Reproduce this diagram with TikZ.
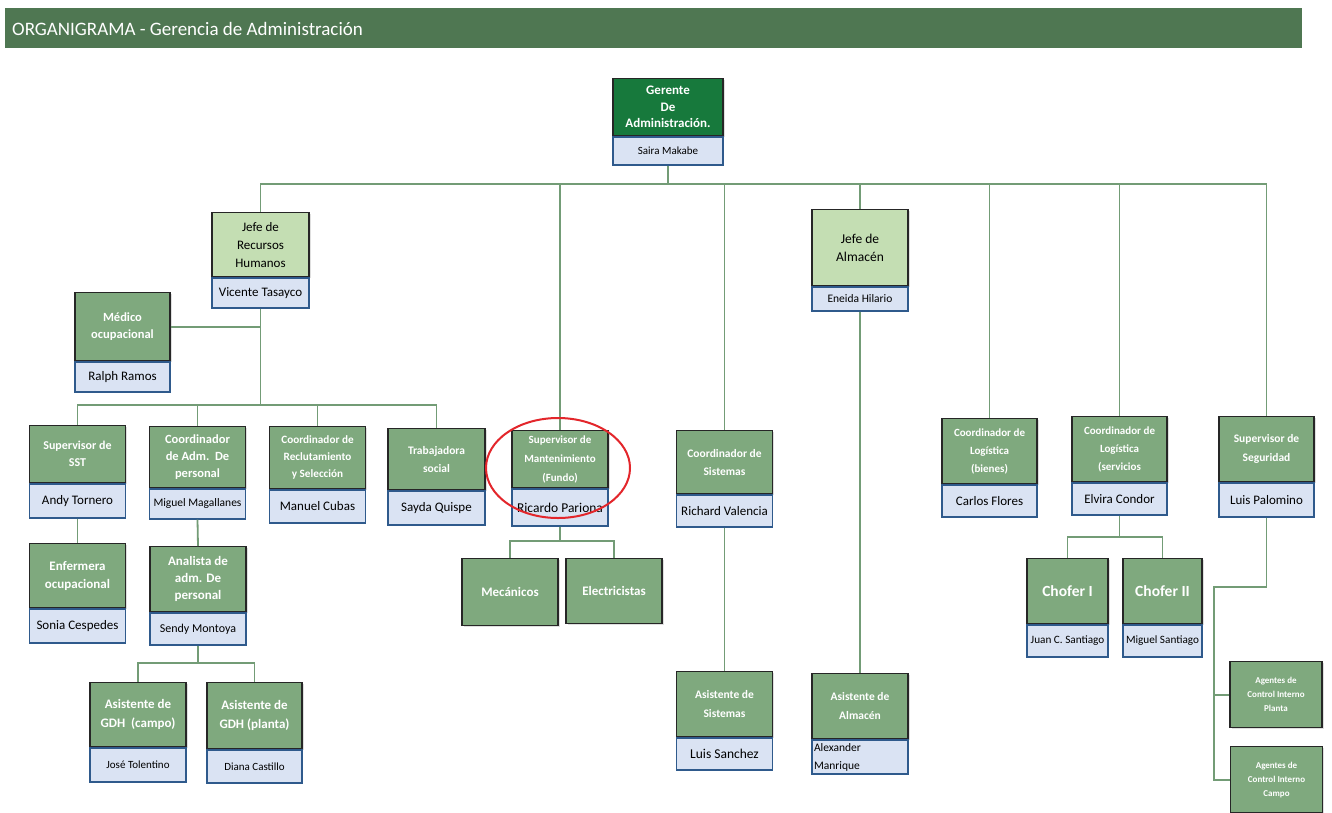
\documentclass[tikz,border=0pt]{standalone}
\usepackage{fontspec}
\setmainfont{Carlito}
\usetikzlibrary{positioning,shadows}
\definecolor{barverde}{HTML}{4F7752}
\definecolor{gerverde}{HTML}{17793C}
\definecolor{jefeverde}{HTML}{C4DEB3}
\definecolor{cargoverde}{HTML}{7FA97E}
\definecolor{nombreazul}{HTML}{DAE3F3}
\definecolor{bordeazul}{HTML}{2F5A8C}
\definecolor{lineaverde}{HTML}{739C76}
\definecolor{elipse}{HTML}{E3262B}

\begin{document}
\begin{tikzpicture}[x=1pt,y=-1pt,
% estilos
cargo/.style={draw=black!85, fill=cargoverde, text=white, line width=1.3pt, minimum width=96pt, anchor=north, align=center, inner sep=2pt, font=\bfseries\fontsize{12}{17}\selectfont, drop shadow={opacity=0.25,shadow xshift=1.5pt,shadow yshift=-1.5pt}},
jefe/.style={cargo, fill=jefeverde, text=black},
nombre/.style={draw=bordeazul, fill=nombreazul, text=black, line width=1.3pt, minimum width=96pt, inner sep=1pt, align=center, font=\fontsize{13}{14}\selectfont, below=0pt of #1},
link/.style={draw=lineaverde, line width=1.8pt},
]
\fill[white, use as bounding box] (0,0) rectangle (1332,812);

% titulo
\fill[barverde] (5,8) rectangle (1302,48);
\node[anchor=west, text=white, inner sep=0pt, font=\fontsize{19}{22}\selectfont] (titulo) at (12,29) {ORGANIGRAMA - Gerencia de Administración};

% gerencia
\node[cargo, fill=gerverde, minimum width=110pt, minimum height=57pt, font=\bfseries\fontsize{13}{16.5}\selectfont] (ger) at (668,78) {Gerente\\De\\Administración.};
\node[nombre=ger, minimum width=110pt, minimum height=28pt, font=\fontsize{11}{12}\selectfont] (gern) {Saira Makabe};

% recursos humanos
\node[jefe, minimum width=97pt, minimum height=64pt, font=\fontsize{13}{18}\selectfont] (rrhh) at (260.5,212) {Jefe de\\Recursos\\Humanos};
\node[nombre=rrhh, minimum width=97pt, minimum height=30pt] (rrhhn) {Vicente Tasayco};
\node[cargo, minimum width=95pt, minimum height=68pt, font=\bfseries\fontsize{12.5}{17}\selectfont] (med) at (122.5,292) {Médico\\ocupacional};
\node[nombre=med, minimum width=95pt, minimum height=30pt] (medn) {Ralph Ramos};

\node[cargo, minimum height=57pt] (sst) at (77.5,425) {Supervisor de\\SST};
\node[nombre=sst, minimum height=34pt] (sstn) {Andy Tornero};
\node[cargo, minimum height=61pt, font=\bfseries\fontsize{12.5}{17}\selectfont] (cadm) at (197.5,426) {Coordinador\\de Adm.\ \ De\\personal};
\node[nombre=cadm, minimum height=30pt, font=\fontsize{11.5}{13}\selectfont] (cadmn) {Miguel Magallanes};
\node[cargo, minimum height=62pt, font=\bfseries\fontsize{11.2}{17}\selectfont] (crec) at (317.5,426) {Coordinador de\\Reclutamiento\\y Selección};
\node[nombre=crec, minimum height=33pt] (crecn) {Manuel Cubas};
\node[cargo, minimum width=97pt, minimum height=61pt, font=\bfseries\fontsize{11.5}{18}\selectfont] (tsoc) at (436.5,428) {Trabajadora\\social};
\node[nombre=tsoc, minimum width=97pt, minimum height=34pt] (tsocn) {Sayda Quispe};

\node[cargo, minimum height=64pt, font=\bfseries\fontsize{13}{18}\selectfont] (enf) at (77.5,543) {Enfermera\\ocupacional};
\node[nombre=enf, minimum height=34pt] (enfn) {Sonia Cespedes};
\node[cargo, minimum height=65pt, font=\bfseries\fontsize{13}{17}\selectfont] (anal) at (198,546) {Analista de\\adm. De\\personal};
\node[nombre=anal, minimum height=32pt, font=\fontsize{12}{13}\selectfont] (analn) {Sendy Montoya};
\node[cargo, minimum height=64pt, font=\bfseries\fontsize{13}{19}\selectfont] (gdhc) at (138,682) {Asistente de\\GDH\ \ (campo)};
\node[nombre=gdhc, minimum height=34pt, font=\fontsize{11}{12}\selectfont] (gdhcn) {José Tolentino};
\node[cargo, minimum width=95pt, minimum height=66pt, font=\bfseries\fontsize{13}{19}\selectfont] (gdhp) at (254.5,682) {Asistente de\\GDH (planta)};
\node[nombre=gdhp, minimum width=95pt, minimum height=33pt, font=\fontsize{11}{12}\selectfont] (gdhpn) {Diana Castillo};

% mantenimiento
\node[cargo, minimum height=57pt, font=\bfseries\fontsize{11}{19}\selectfont] (smant) at (560,430) {Supervisor de\\Mantenimiento\\(Fundo)};
\node[nombre=smant, minimum height=37pt, font=\fontsize{13.5}{14}\selectfont] (smantn) {Ricardo Pariona};
\node[cargo, minimum height=67pt, font=\bfseries\fontsize{13}{17}\selectfont] (mec) at (510,558) {Mecánicos};
\node[cargo, minimum height=65pt, font=\bfseries\fontsize{13}{17}\selectfont] (elec) at (614,558) {Electricistas};

% sistemas
\node[cargo, minimum height=63pt, font=\bfseries\fontsize{11.5}{18}\selectfont] (csis) at (724.5,430) {Coordinador de\\Sistemas};
\node[nombre=csis, minimum height=32pt] (csisn) {Richard Valencia};
\node[cargo, minimum height=65pt, font=\bfseries\fontsize{11.5}{19}\selectfont] (asis) at (724.5,671) {Asistente de\\Sistemas};
\node[nombre=asis, minimum height=32pt, font=\fontsize{13.5}{14}\selectfont] (asisn) {Luis Sanchez};

% almacen
\node[jefe, minimum height=76pt, font=\fontsize{13.5}{18}\selectfont] (jalm) at (860,209) {Jefe de\\Almacén};
\node[nombre=jalm, minimum height=24pt, font=\fontsize{11.5}{12}\selectfont] (jalmn) {Eneida Hilario};
\node[cargo, minimum height=65pt, font=\bfseries\fontsize{11.5}{19}\selectfont] (aalm) at (860,673) {Asistente de\\Almacén};
\node[nombre=aalm, minimum height=34pt, text width=92pt, align=left, font=\fontsize{11.5}{18}\selectfont] (aalmn) {Alexander\\Manrique};

% logistica
\node[cargo, minimum width=95pt, minimum height=65pt, font=\bfseries\fontsize{11}{18}\selectfont] (clb) at (989.5,418) {Coordinador de\\Logística\\(bienes)};
\node[nombre=clb, minimum width=95pt, minimum height=32pt] (clbn) {Carlos Flores};
\node[cargo, minimum width=95pt, minimum height=65pt, font=\bfseries\fontsize{11}{18}\selectfont] (cls) at (1119.5,416) {Coordinador de\\Logística\\(servicios};
\node[nombre=cls, minimum width=95pt, minimum height=32pt] (clsn) {Elvira Condor};
\node[cargo, minimum width=81pt, minimum height=65pt, font=\bfseries\fontsize{15.5}{17}\selectfont] (ch1) at (1067.5,558) {Chofer I};
\node[nombre=ch1, minimum width=81pt, minimum height=32pt, font=\fontsize{11.2}{12}\selectfont] (ch1n) {Juan C. Santiago};
\node[cargo, minimum width=79pt, minimum height=65pt, font=\bfseries\fontsize{15.5}{17}\selectfont] (ch2) at (1162.5,558) {Chofer II};
\node[nombre=ch2, minimum width=79pt, minimum height=32pt, font=\fontsize{11.2}{12}\selectfont] (ch2n) {Miguel Santiago};

% seguridad
\node[cargo, minimum width=95pt, minimum height=65pt, font=\bfseries\fontsize{11.5}{19}\selectfont] (sseg) at (1266.5,416) {Supervisor de\\Seguridad};
\node[nombre=sseg, minimum width=95pt, minimum height=34pt] (ssegn) {Luis Palomino};
\node[cargo, minimum width=92pt, minimum height=66pt, font=\bfseries\fontsize{9}{14}\selectfont] (agp) at (1276,661) {Agentes de\\Control Interno\\Planta};
\node[cargo, minimum width=92pt, minimum height=66pt, font=\bfseries\fontsize{9}{14}\selectfont] (agc) at (1276.5,746) {Agentes de\\Control Interno\\Campo};

% lineas
\coordinate (busger) at (668,184);
\draw[link] (gern.south) -- (busger);
\foreach \n in {rrhh,smant,csis,jalm,clb,cls,sseg}
  \draw[link] (busger) -| (\n.north);

\coordinate (busrh) at (260.5,405);
\draw[link] (rrhhn.south) -- (busrh);
\draw[link] (med.east) -- (med.east -| rrhhn.south);
\foreach \n in {sst,cadm,crec,tsoc}
  \draw[link] (busrh) -| (\n.north);
\draw[link] (sstn.south) -- (enf.north);
\draw[link] (cadmn.south) -- (anal.north);
\coordinate (busan) at (198,663);
\draw[link] (analn.south) -- (busan);
\foreach \n in {gdhc,gdhp}
  \draw[link] (busan) -| (\n.north);

\coordinate (busma) at (560,541);
\draw[link] (smantn.south) -- (busma);
\foreach \n in {mec,elec}
  \draw[link] (busma) -| (\n.north);

\draw[link] (csisn.south) -- (asis.north);
\draw[link] (jalmn.south) -- (aalm.north);

\coordinate (buslo) at (1119.5,537);
\draw[link] (clsn.south) -- (buslo);
\foreach \n in {ch1,ch2}
  \draw[link] (buslo) -| (\n.north);

\coordinate (segcodo) at (1214,587);
\draw[link] (ssegn.south) |- (segcodo) |- (agc.west);
\draw[link] (segcodo) |- (agp.west);

% marca
\draw[draw=elipse, line width=2pt] (558,468) ellipse [x radius=72, y radius=50];

\end{tikzpicture}
\end{document}
